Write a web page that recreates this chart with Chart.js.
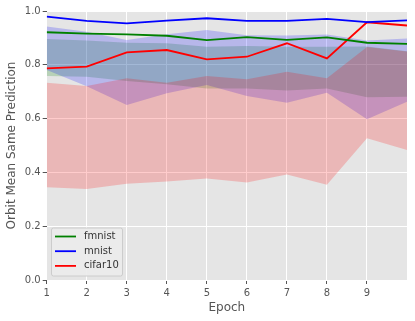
<!DOCTYPE html>
<html>
<head>
<meta charset="utf-8">
<script src="https://cdn.jsdelivr.net/npm/chart.js@4.4.1/dist/chart.umd.min.js"></script>
<style>
  html, body { margin: 0; padding: 0; background: #fff; }
  #wrap { width: 415px; height: 321px; }
</style>
</head>
<body>
<div id="wrap"><canvas id="myChart" width="415" height="321"></canvas></div>
<script>
const epochs = [1, 2, 3, 4, 5, 6, 7, 8, 9, 10];
const seriesNames = ['fmnist', 'mnist', 'cifar10'];

const fmnistMean = [0.921, 0.916, 0.913, 0.908, 0.892, 0.903, 0.893, 0.902, 0.882, 0.878];
const mnistMean = [0.979, 0.963, 0.954, 0.964, 0.973, 0.963, 0.963, 0.971, 0.959, 0.965];
const cifarMean = [0.787, 0.793, 0.846, 0.855, 0.820, 0.830, 0.880, 0.824, 0.958, 0.946];

// shaded bands
const fmnistUpper = [0.896, 0.890, 0.882, 0.880, 0.867, 0.870, 0.867, 0.867, 0.868, 0.850];
const fmnistLower = [0.758, 0.756, 0.740, 0.728, 0.712, 0.712, 0.704, 0.712, 0.679, 0.681];
const mnistUpper = [0.942, 0.923, 0.892, 0.914, 0.929, 0.910, 0.909, 0.913, 0.890, 0.898];
const mnistLower = [0.781, 0.720, 0.651, 0.694, 0.725, 0.684, 0.659, 0.696, 0.598, 0.663];
const cifarUpper = [0.733, 0.721, 0.750, 0.733, 0.758, 0.746, 0.774, 0.750, 0.866, 0.849];
const cifarLower = [0.345, 0.338, 0.358, 0.366, 0.377, 0.362, 0.392, 0.354, 0.527, 0.483];

const yTicks = [0.0, 0.2, 0.4, 0.6, 0.8, 1.0];

const pts = arr => arr.map((v, i) => ({ x: epochs[i], y: v }));

const lineSet = (label, arr, color) => ({
    label: label,
    data: pts(arr),
    borderColor: color,
    backgroundColor: color,
    borderWidth: 1.8,
    pointRadius: 0,
    tension: 0,
    fill: false,
});

const bandSet = (arr, fillColor, target) => ({
    label: '',
    data: pts(arr),
    borderColor: 'transparent',
    backgroundColor: fillColor,
    borderWidth: 1,
    pointRadius: 0,
    tension: 0,
    fill: target === undefined ? false : { target: target },
});

// gray ggplot panel
const panelBg = {
    id: 'panelBg',
    beforeDraw(chart) {
        const { ctx, chartArea: a } = chart;
        ctx.save();
        ctx.fillStyle = '#E5E5E5';
        ctx.fillRect(a.left, a.top, a.right - a.left, a.bottom - a.top);
        ctx.restore();
    },
};

// legend drawn inside the plot, lower left
const insideLegend = {
    id: 'insideLegend',
    afterDraw(chart) {
        const { ctx } = chart;
        const x0 = 51.5, y0 = 228, w = 71, h = 48;
        ctx.save();
        ctx.fillStyle = 'rgba(235,235,235,0.9)';
        ctx.strokeStyle = '#cccccc';
        ctx.lineWidth = 1;
        ctx.beginPath();
        ctx.roundRect(x0, y0, w, h, 2);
        ctx.fill();
        ctx.stroke();
        ctx.font = '10px "DejaVu Sans"';
        ctx.textBaseline = 'middle';
        for (let i = 0; i < 3; i++) {
            const ds = chart.data.datasets[i];
            const y = y0 + 8.5 + i * 14.7;
            ctx.strokeStyle = ds.borderColor;
            ctx.lineWidth = 1.8;
            ctx.beginPath();
            ctx.moveTo(55, y);
            ctx.lineTo(76, y);
            ctx.stroke();
            ctx.fillStyle = '#333';
            ctx.fillText(ds.label, 84, y);
        }
        ctx.restore();
    },
};

const data = {
    datasets: [
        lineSet(seriesNames[0], fmnistMean, '#008000'),
        lineSet(seriesNames[1], mnistMean, '#0000FF'),
        lineSet(seriesNames[2], cifarMean, '#FF0000'),
        bandSet(cifarUpper, 'rgba(255,0,0,0.2)', 4),
        bandSet(cifarLower, 'rgba(255,0,0,0.2)'),
        bandSet(mnistUpper, 'rgba(0,0,255,0.2)', 6),
        bandSet(mnistLower, 'rgba(0,0,255,0.2)'),
        bandSet(fmnistUpper, 'rgba(0,128,0,0.2)', 8),
        bandSet(fmnistLower, 'rgba(0,128,0,0.2)'),
    ],
};

const options = {
    responsive: false,
    animation: false,
    events: [],
    layout: {
        padding: { top: 11, right: 8, bottom: 0, left: 0 },
    },
    plugins: {
        legend: { display: false },
        tooltip: { enabled: false },
    },
    scales: {
        x: {
            type: 'linear',
            min: 1,
            max: 10,
            border: { display: false },
            grid: { color: '#FFFFFF', lineWidth: 1, tickColor: '#555555', tickLength: 4 },
            ticks: {
                stepSize: 1,
                color: '#555555',
                padding: 3,
                maxRotation: 0,
                font: { family: 'DejaVu Sans', size: 10 },
            },
            afterBuildTicks: s => { s.ticks = s.ticks.filter(t => t.value < 10); },
            afterFit: s => { s.height = 41; },
            title: {
                display: true,
                text: 'Epoch',
                color: '#555555',
                font: { family: 'DejaVu Sans', size: 12 },
                padding: { top: 0, bottom: 6 },
            },
        },
        y: {
            min: 0,
            max: 1,
            border: { display: false },
            grid: { color: '#FFFFFF', lineWidth: 1, tickColor: '#555555', tickLength: 4 },
            ticks: {
                color: '#555555',
                padding: 2,
                font: { family: 'DejaVu Sans', size: 10 },
                callback: v => v.toFixed(1),
            },
            afterBuildTicks: s => { s.ticks = yTicks.map(v => ({ value: v })); },
            afterFit: s => { s.width = 46.7; },
            title: {
                display: true,
                text: 'Orbit Mean Same Prediction',
                color: '#555555',
                font: { family: 'DejaVu Sans', size: 12 },
                padding: { top: 5, bottom: 0 },
            },
        },
    },
};

new Chart(document.getElementById('myChart'), {
    type: 'line',
    data: data,
    options: options,
    plugins: [panelBg, insideLegend],
});
</script>
</body>
</html>
